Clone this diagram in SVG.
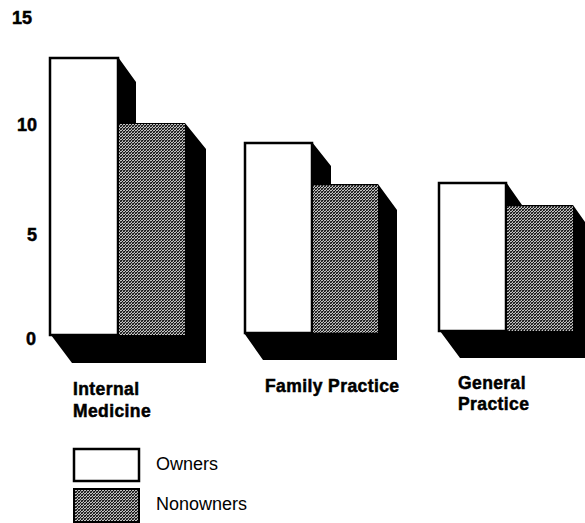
<svg xmlns="http://www.w3.org/2000/svg" width="585" height="523" viewBox="0 0 585 523">
<defs>
<pattern id="dither" width="3" height="3" patternUnits="userSpaceOnUse">
<rect width="3" height="3" fill="#c4c4c4"/>
<rect x="0" y="0" width="1" height="1" fill="#111"/>
<rect x="2" y="1" width="1" height="1" fill="#111"/>
<rect x="1" y="2" width="1" height="1" fill="#111"/>
<rect x="1" y="0" width="1" height="1" fill="#555"/>
<rect x="0" y="2" width="1" height="1" fill="#444"/>
<rect x="2" y="2" width="1" height="1" fill="#888"/>
</pattern>
<style>
.ax{font-family:"Liberation Sans",Arial,sans-serif;font-weight:bold;font-size:18px;fill:#000;stroke:#000;stroke-width:0.5}
.lbl{font-family:"Liberation Sans",Arial,sans-serif;font-weight:bold;font-size:17.5px;fill:#000;stroke:#000;stroke-width:0.5;letter-spacing:0.4px}
.leg{font-family:"Liberation Sans",Arial,sans-serif;font-size:18px;fill:#000}
.shadow{fill:#000}
.owner{fill:#fff;stroke:#000;stroke-width:2.5}
.non{fill:url(#dither)}
</style>
</defs>
<g id="axis-labels">
<text class="ax" x="12" y="24">15</text>
<text class="ax" x="17" y="131">10</text>
<text class="ax" x="27" y="241">5</text>
<text class="ax" x="26" y="345">0</text>
</g>
<g id="internal-medicine">
<polygon class="shadow" points="118,57 136,82 136,123 185,123 206,149 206,363 72,363 51,335"/>
<rect class="owner" x="50" y="58" width="68" height="277"/>
<rect class="non" x="119" y="124" width="66" height="211"/>
</g>
<g id="family-practice">
<polygon class="shadow" points="312,142 331,166 331,184 378,184 397,210 397,360 263,360 244,333"/>
<rect class="owner" x="245" y="143" width="67" height="190"/>
<rect class="non" x="313" y="185" width="65" height="148"/>
</g>
<g id="general-practice">
<polygon class="shadow" points="506,182 522,205 573,205 592,232 592,358 460,358 440,331"/>
<rect class="owner" x="439" y="183" width="67" height="148"/>
<rect class="non" x="507" y="206" width="66" height="125"/>
</g>
<g id="category-labels">
<text class="lbl" x="73" y="395">Internal</text>
<text class="lbl" x="73" y="417">Medicine</text>
<text class="lbl" x="265" y="392">Family Practice</text>
<text class="lbl" x="458" y="389">General</text>
<text class="lbl" x="458" y="410">Practice</text>
</g>
<g id="legend">
<rect class="owner" x="74" y="449" width="65" height="32"/>
<text class="leg" x="156" y="470">Owners</text>
<rect x="73" y="488" width="67" height="35" fill="#000"/>
<rect class="non" x="75" y="490" width="63" height="31"/>
<text class="leg" x="156" y="510">Nonowners</text>
</g>
</svg>
